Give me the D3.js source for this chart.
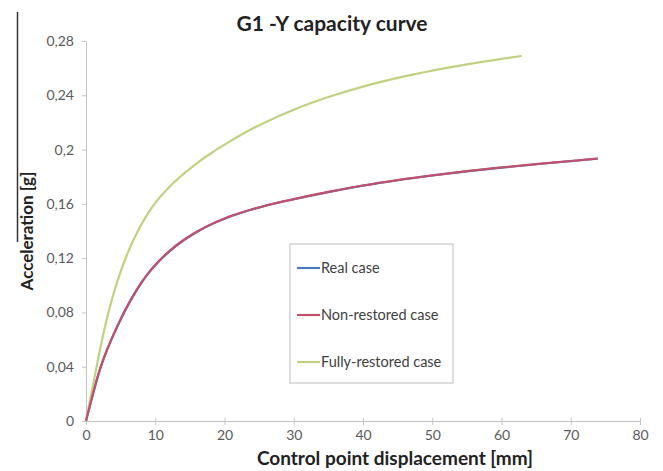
<html>
<head>
<script src="https://cdn.jsdelivr.net/npm/d3@7"></script>
<style>
  body { margin: 0; background: #fff; }
  text { font-family: Lato, "Open Sans", sans-serif; }
  .axis path, .axis line { stroke: #c4c4c4; }
  .axis text { fill: #5a5a5a; font-size: 14px; }
</style>
</head>
<body>
<svg id="chart" width="663" height="471"></svg>
<script>
// displacement [mm] / acceleration [g]
const fullyX = [0, 1, 2, 3, 4, 5, 6, 7, 8, 9, 10, 12, 14, 16, 18, 20, 23, 26, 30, 35, 40, 45, 50, 55, 60, 62.9];
const fullyY = [0, 0.026, 0.052, 0.075, 0.094, 0.11, 0.1235, 0.135, 0.1448, 0.1533, 0.1607, 0.1723, 0.1817, 0.1899, 0.1971, 0.2036, 0.2126, 0.2204, 0.2294, 0.2387, 0.2464, 0.2528, 0.2582, 0.2628, 0.2668, 0.269];
const nonX = [0, 1, 2, 3, 4, 5, 6, 7, 8, 9, 10, 12, 14, 16, 18, 20, 23, 26, 30, 35, 40, 45, 50, 55, 60, 65, 70, 73.9];
const nonY = [0, 0.02, 0.038, 0.052, 0.064, 0.075, 0.085, 0.094, 0.102, 0.109, 0.115, 0.125, 0.133, 0.1395, 0.1448, 0.1492, 0.1545, 0.1588, 0.1635, 0.1688, 0.1735, 0.1775, 0.181, 0.1841, 0.1868, 0.1893, 0.1916, 0.1934];
const realX = [0, 1, 2, 3, 4, 5, 6, 7, 8, 9, 10, 12, 14, 16, 18, 20, 23, 26, 30, 35, 40, 45, 50, 55, 60, 65, 70, 73.9];
const realY = [0, 0.0198, 0.0377, 0.0518, 0.0638, 0.0747, 0.0847, 0.0937, 0.1018, 0.1088, 0.1148, 0.1248, 0.1328, 0.1393, 0.1447, 0.1491, 0.1544, 0.1587, 0.1634, 0.1687, 0.1734, 0.1774, 0.1809, 0.184, 0.1867, 0.1892, 0.1915, 0.1933];

const seriesNames = ["Real case", "Non-restored case", "Fully-restored case"];
const seriesColors = ["#4a7ebb", "#c1506c", "#c0d282"];
const xTicks = [0, 10, 20, 30, 40, 50, 60, 70, 80];
const yTicks = [0, 0.04, 0.08, 0.12, 0.16, 0.2, 0.24, 0.28];

const series = [
  { name: seriesNames[0], color: seriesColors[0], pts: realX.map((x, i) => [x, realY[i]]) },
  { name: seriesNames[2], color: seriesColors[2], pts: fullyX.map((x, i) => [x, fullyY[i]]) },
  { name: seriesNames[1], color: seriesColors[1], pts: nonX.map((x, i) => [x, nonY[i]]) }
];

const svg = d3.select("#chart");
const margin = { left: 86, right: 23, top: 41, bottom: 50 };
const width = +svg.attr("width");
const height = +svg.attr("height");

const x = d3.scaleLinear().domain([0, 80]).range([margin.left, width - margin.right]);
const y = d3.scaleLinear().domain([0, 0.28]).range([height - margin.bottom, margin.top]);
const fmt = d => String(+d.toFixed(2)).replace(".", ",");

// scan artefact on the left edge
svg.append("line").attr("x1", 17.5).attr("x2", 17.5).attr("y1", 12).attr("y2", 242)
  .attr("stroke", "#333").attr("stroke-width", 1.5);

svg.append("g").attr("class", "axis")
  .attr("transform", `translate(0,${y(0)})`)
  .call(d3.axisBottom(x).tickValues(xTicks).tickSize(4).tickSizeOuter(0).tickPadding(5))
  .call(g => g.selectAll(".tick line").attr("y1", -3));

svg.append("g").attr("class", "axis")
  .attr("transform", `translate(${x(0)},0)`)
  .call(d3.axisLeft(y).tickValues(yTicks).tickFormat(fmt).tickSize(4).tickSizeOuter(0).tickPadding(8));

const line = d3.line().x(d => x(d[0])).y(d => y(d[1])).curve(d3.curveMonotoneX);

svg.append("g").selectAll("path").data(series).join("path")
  .attr("d", d => line(d.pts))
  .attr("fill", "none")
  .attr("stroke", d => d.color)
  .attr("stroke-width", 2.2);

// title and axis labels
svg.append("text").attr("x", 332).attr("y", 31).attr("text-anchor", "middle")
  .style("font-size", "21px").style("font-weight", "bold").attr("fill", "#222")
  .text("G1 -Y capacity curve");

svg.append("text").attr("x", 395).attr("y", 465).attr("text-anchor", "middle")
  .style("font-size", "19px").style("font-weight", "bold").attr("fill", "#222")
  .text("Control point displacement [mm]");

svg.append("text").attr("transform", "translate(33,231) rotate(-90)").attr("text-anchor", "middle")
  .style("font-size", "17px").style("font-weight", "bold").attr("fill", "#222")
  .text("Acceleration [g]");

// legend
const legend = svg.append("g").attr("transform", "translate(290,244)");
legend.append("rect").attr("width", 163).attr("height", 139)
  .attr("fill", "#fff").attr("stroke", "#bdbdbd");
const items = legend.selectAll("g.item").data(seriesNames).join("g").attr("class", "item")
  .attr("transform", (d, i) => `translate(0,${24 + i * 47})`);
items.append("line").attr("x1", 7).attr("x2", 30)
  .attr("stroke", (d, i) => seriesColors[i]).attr("stroke-width", 2.2);
items.append("text").attr("x", 31).attr("dy", "0.35em")
  .style("font-size", "14.5px").attr("fill", "#404040").text(d => d);
</script>
</body>
</html>
